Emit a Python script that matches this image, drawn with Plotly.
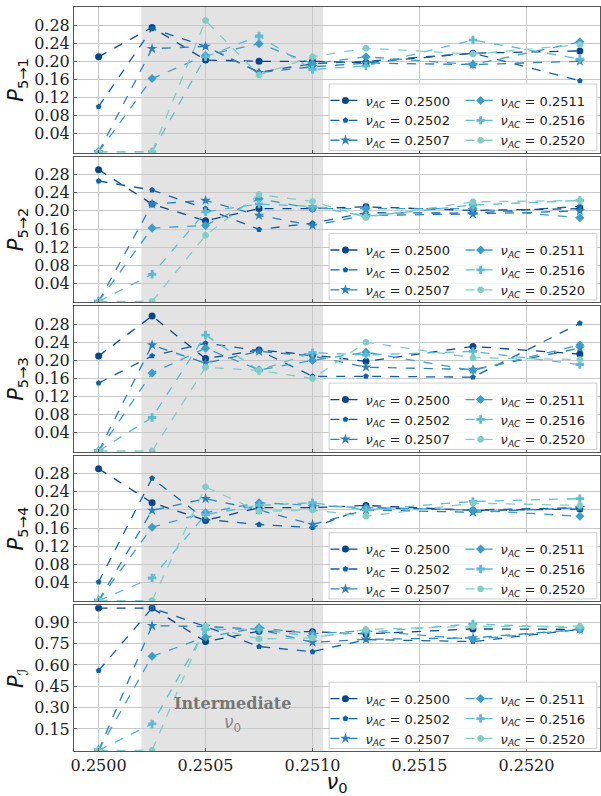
import plotly.graph_objects as go
from plotly.subplots import make_subplots

# ---------------- data ----------------
x_vals = [0.2500, 0.25025, 0.2505, 0.25075, 0.2510, 0.25125, 0.25175, 0.25225]
nu_ac = ["0.2500", "0.2502", "0.2507", "0.2511", "0.2516", "0.2520"]

p5_1 = [
    [0.210, 0.275, 0.203, 0.200, 0.200, 0.197, 0.218, 0.223],
    [0.100, 0.272, 0.233, 0.176, 0.195, 0.200, 0.218, 0.157],
    [0.000, 0.228, 0.233, 0.175, 0.188, 0.196, 0.193, 0.200],
    [0.000, 0.162, 0.213, 0.239, 0.195, 0.210, 0.193, 0.243],
    [0.000, 0.000, 0.210, 0.256, 0.182, 0.190, 0.247, 0.205],
    [0.000, 0.000, 0.290, 0.170, 0.210, 0.229, 0.216, 0.237],
]
p5_2 = [
    [0.291, 0.215, 0.178, 0.205, 0.205, 0.209, 0.201, 0.205],
    [0.266, 0.246, 0.205, 0.159, 0.173, 0.196, 0.195, 0.210],
    [0.000, 0.215, 0.223, 0.190, 0.168, 0.190, 0.193, 0.200],
    [0.000, 0.162, 0.168, 0.227, 0.205, 0.205, 0.205, 0.185],
    [0.000, 0.060, 0.198, 0.215, 0.210, 0.188, 0.213, 0.223],
    [0.000, 0.000, 0.146, 0.236, 0.221, 0.186, 0.220, 0.223],
]
p5_3 = [
    [0.210, 0.298, 0.204, 0.223, 0.212, 0.198, 0.231, 0.214],
    [0.150, 0.210, 0.238, 0.222, 0.165, 0.165, 0.163, 0.282],
    [0.000, 0.234, 0.194, 0.220, 0.210, 0.185, 0.180, 0.227],
    [0.000, 0.172, 0.227, 0.179, 0.200, 0.218, 0.178, 0.234],
    [0.000, 0.074, 0.256, 0.178, 0.217, 0.212, 0.220, 0.191],
    [0.000, 0.000, 0.185, 0.178, 0.160, 0.240, 0.206, 0.202],
]
p5_4 = [
    [0.291, 0.216, 0.177, 0.205, 0.205, 0.210, 0.199, 0.202],
    [0.041, 0.270, 0.179, 0.168, 0.161, 0.205, 0.200, 0.205],
    [0.000, 0.199, 0.225, 0.200, 0.168, 0.200, 0.195, 0.205],
    [0.000, 0.162, 0.194, 0.216, 0.210, 0.205, 0.200, 0.186],
    [0.000, 0.050, 0.190, 0.210, 0.216, 0.200, 0.219, 0.225],
    [0.000, 0.000, 0.251, 0.197, 0.200, 0.186, 0.215, 0.210],
]
p_i = [
    [1.000, 1.000, 0.764, 0.837, 0.834, 0.818, 0.853, 0.850],
    [0.560, 1.000, 0.870, 0.729, 0.693, 0.778, 0.764, 0.850],
    [0.000, 0.876, 0.870, 0.850, 0.759, 0.780, 0.790, 0.850],
    [0.000, 0.661, 0.795, 0.862, 0.820, 0.840, 0.780, 0.850],
    [0.000, 0.185, 0.850, 0.850, 0.800, 0.830, 0.888, 0.860],
    [0.000, 0.000, 0.872, 0.783, 0.790, 0.850, 0.870, 0.872],
]
panels = [p5_1, p5_2, p5_3, p5_4, p_i]
y_titles = ["<i>P</i><sub>5→1</sub>", "<i>P</i><sub>5→2</sub>", "<i>P</i><sub>5→3</sub>",
            "<i>P</i><sub>5→4</sub>", "<i>P</i><sub>ℐ</sub>"]
shade_range = [0.25020, 0.25105]

# ---------------- styles ----------------
colors = ["#08468b", "#0d62a8", "#2c80bc", "#3d9dca", "#5dbbd6", "#80cdc6"]
symbols = ["circle", "pentagon", "star", "diamond", "cross", "octagon"]
msizes = [7, 6, 8, 7, 7, 7]

W, H = 601, 796
ML, MR, MT, MB = 74, 1, 7, 45
PH = H - MT - MB
PW = W - ML - MR

fig = make_subplots(rows=5, cols=1, shared_xaxes=True, vertical_spacing=0.005)

for r, data in enumerate(panels, start=1):
    for k, ys in enumerate(data):
        idx = 2 * (r - 1) + (1 if k < 3 else 2)
        legname = "legend" if idx == 1 else f"legend{idx}"
        fig.add_trace(go.Scatter(
            x=x_vals, y=ys, mode="lines+markers",
            name=f"<i>ν</i><sub><i>AC</i></sub> = {nu_ac[k]}",
            line=dict(color=colors[k], width=1.3, dash="dash"),
            marker=dict(symbol=symbols[k], size=msizes[k], color=colors[k]),
            legend=legname, showlegend=True,
        ), row=r, col=1)

tick_font = dict(family="DejaVu Serif", size=16, color="#222")
for r in range(1, 6):
    yref = "y" if r == 1 else f"y{r}"
    fig.add_shape(type="rect", xref="x" if r == 1 else f"x{r}", yref=f"{yref} domain",
                  x0=shade_range[0], x1=shade_range[1], y0=0, y1=1,
                  fillcolor="#e3e3e3", line_width=0, layer="below")
    if r < 5:
        fig.update_yaxes(range=[-0.002, 0.32], tickvals=[0.04, 0.08, 0.12, 0.16, 0.20, 0.24, 0.28],
                         tickformat=".2f", row=r, col=1)
    else:
        fig.update_yaxes(range=[-0.005, 1.02], tickvals=[0.15, 0.30, 0.45, 0.60, 0.75, 0.90],
                         tickformat=".2f", row=r, col=1)
    fig.update_yaxes(title=dict(text=y_titles[r - 1], font=dict(family="DejaVu Sans", size=21, color="#111"),
                                standoff=4),
                     row=r, col=1)

fig.update_yaxes(showgrid=True, gridcolor="#c8c8c8", gridwidth=1, zeroline=False, automargin=False,
                 showline=True, linecolor="#555", linewidth=1, mirror=True,
                 ticks="inside", ticklen=3, tickcolor="#555", tickfont=tick_font)
fig.update_xaxes(range=[0.249885, 0.252344], tickvals=[0.2500, 0.2505, 0.2510, 0.2515, 0.2520],
                 tickformat=".4f", showgrid=True, gridcolor="#c8c8c8", gridwidth=1, zeroline=False,
                 automargin=False,
                 showline=True, linecolor="#555", linewidth=1, mirror=True,
                 ticks="inside", ticklen=3, tickcolor="#555", tickfont=tick_font)
fig.update_xaxes(title=dict(text="<i>ν</i><sub>0</sub>", font=dict(family="DejaVu Sans", size=21, color="#111"),
                            standoff=0), row=5, col=1)

# legends: two columns per panel, with a common box
layout_legends = {}
for r in range(1, 6):
    yax = fig.layout["yaxis" if r == 1 else f"yaxis{r}"]
    d0, d1 = yax.domain
    box_top = d1 - 77.0 / PH
    box_bot = d0 + 2.5 / PH
    fig.add_shape(type="rect", xref="paper", yref="paper", x0=0.485, x1=0.994,
                  y0=box_bot, y1=box_top, fillcolor="rgba(255,255,255,0.85)",
                  line=dict(color="#cfcfcf", width=1), layer="above")
    for c, xpos in enumerate([0.478, 0.735]):
        idx = 2 * (r - 1) + c + 1
        name = "legend" if idx == 1 else f"legend{idx}"
        layout_legends[name] = dict(
            x=xpos, y=box_top - 1.5 / PH, xanchor="left", yanchor="top",
            bgcolor="rgba(0,0,0,0)", borderwidth=0, tracegroupgap=0,
            font=dict(family="DejaVu Sans", size=13, color="#222"),
            itemwidth=30,
        )
fig.update_layout(**layout_legends)

# annotation
fig.add_annotation(x=sum(shade_range) / 2, y=0.33, xref="x5", yref="y5",
                   text="<b>Intermediate</b>", showarrow=False,
                   font=dict(family="DejaVu Serif", size=16, color="#777"))
fig.add_annotation(x=sum(shade_range) / 2, y=0.185, xref="x5", yref="y5",
                   text="<i>ν</i><sub>0</sub>", showarrow=False,
                   font=dict(family="DejaVu Sans", size=17, color="#888"))

fig.update_layout(width=W, height=H, margin=dict(l=ML, r=MR, t=MT, b=MB, autoexpand=False),
                  plot_bgcolor="white", paper_bgcolor="white")

fig.write_html("out.html", config={"displayModeBar": False},
               post_script="document.body.style.margin='0';document.body.style.overflow='hidden';")
